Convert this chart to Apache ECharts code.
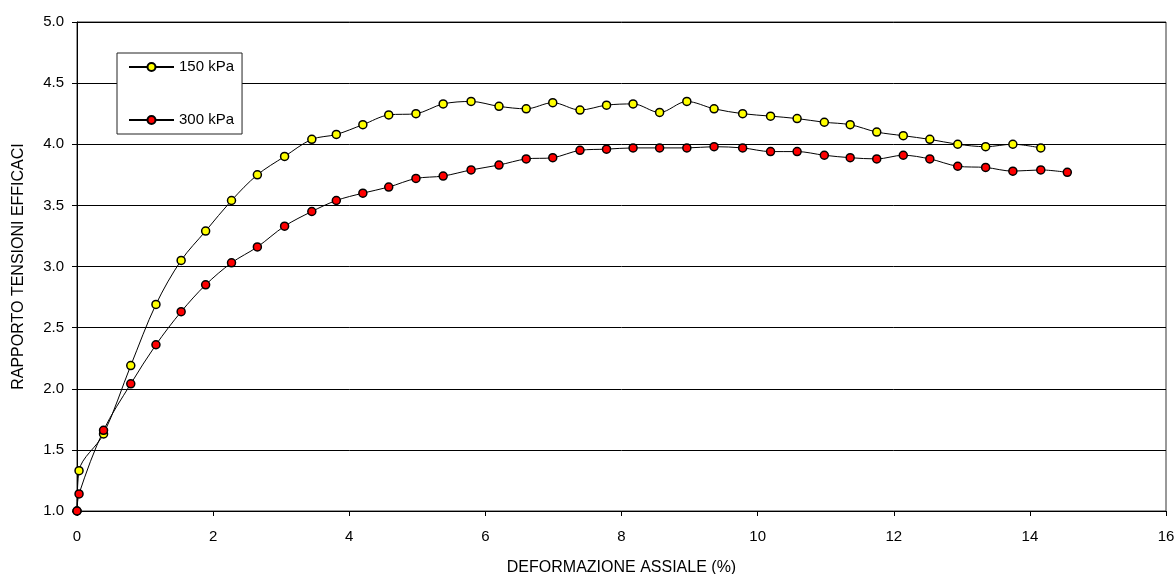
<!DOCTYPE html>
<html>
<head>
<meta charset="utf-8">
<script src="https://cdn.jsdelivr.net/npm/echarts@6/dist/echarts.min.js"></script>
<style>
html,body{margin:0;padding:0;background:#fff;}
#chart{width:1176px;height:574px;}
</style>
</head>
<body>
<div id="chart"></div>
<script>
var seriesNames = ['150 kPa', '300 kPa'];
var x150 = [0, 0.03, 0.39, 0.79, 1.16, 1.53, 1.89, 2.27, 2.65, 3.05, 3.45, 3.81, 4.20, 4.58, 4.98, 5.38, 5.79, 6.20, 6.60, 6.99, 7.39, 7.78, 8.17, 8.56, 8.96, 9.36, 9.78, 10.19, 10.58, 10.98, 11.36, 11.75, 12.14, 12.53, 12.94, 13.35, 13.75, 14.16];
var y150 = [1.00, 1.33, 1.63, 2.19, 2.69, 3.05, 3.29, 3.54, 3.75, 3.90, 4.04, 4.08, 4.16, 4.24, 4.25, 4.33, 4.35, 4.31, 4.29, 4.34, 4.28, 4.32, 4.33, 4.26, 4.35, 4.29, 4.25, 4.23, 4.21, 4.18, 4.16, 4.10, 4.07, 4.04, 4.00, 3.98, 4.00, 3.97];
var x300 = [0, 0.03, 0.39, 0.79, 1.16, 1.53, 1.89, 2.27, 2.65, 3.05, 3.45, 3.81, 4.20, 4.58, 4.98, 5.38, 5.79, 6.20, 6.60, 6.99, 7.39, 7.78, 8.17, 8.56, 8.96, 9.36, 9.78, 10.19, 10.58, 10.98, 11.36, 11.75, 12.14, 12.53, 12.94, 13.35, 13.75, 14.16, 14.55];
var y300 = [1.00, 1.14, 1.66, 2.04, 2.36, 2.63, 2.85, 3.03, 3.16, 3.33, 3.45, 3.54, 3.60, 3.65, 3.72, 3.74, 3.79, 3.83, 3.88, 3.89, 3.95, 3.96, 3.97, 3.97, 3.97, 3.98, 3.97, 3.94, 3.94, 3.91, 3.89, 3.88, 3.91, 3.88, 3.82, 3.81, 3.78, 3.79, 3.77];
var xTitle = 'DEFORMAZIONE ASSIALE (%)';
var yTitle = 'RAPPORTO TENSIONI EFFICACI';

function pairs(xs, ys) { return xs.map(function (x, i) { return [x, ys[i]]; }); }

var FONT = '"Liberation Sans", Arial, sans-serif';
var chart = echarts.init(document.getElementById('chart'), null, {renderer: 'canvas'});
chart.setOption({
  animation: false,
  backgroundColor: '#fff',
  textStyle: {fontFamily: FONT, color: '#000'},
  grid: {left: 77, right: 10, top: 22, bottom: 63, containLabel: false, outerBoundsMode: 'none',
    show: true, borderColor: '#333', borderWidth: 1, backgroundColor: 'transparent'},
  legend: {
    left: 117, top: 53, orient: 'vertical',
    backgroundColor: '#fff', borderColor: '#222', borderWidth: 1,
    padding: [6, 8, 6, 11],
    itemWidth: 45, itemHeight: 10, itemGap: 37,
    textStyle: {fontFamily: FONT, fontSize: 15, color: '#000', lineHeight: 16},
    data: seriesNames
  },
  xAxis: {
    type: 'value', min: 0, max: 16, interval: 2,
    name: xTitle, nameLocation: 'middle', nameGap: 49,
    nameTextStyle: {fontFamily: FONT, fontSize: 16, color: '#000'},
    axisLine: {show: true, lineStyle: {color: '#000', width: 1}},
    axisTick: {show: true, length: 5, lineStyle: {color: '#000'}},
    axisLabel: {fontFamily: FONT, fontSize: 15, color: '#000', margin: 18},
    splitLine: {show: false}
  },
  yAxis: {
    type: 'value', min: 1, max: 5, interval: 0.5,
    name: yTitle, nameLocation: 'middle', nameGap: 50, nameRotate: 90,
    nameTextStyle: {fontFamily: FONT, fontSize: 16, color: '#000'},
    axisLine: {show: true, lineStyle: {color: '#000', width: 1}},
    axisTick: {show: true, length: 5, lineStyle: {color: '#000'}},
    axisLabel: {fontFamily: FONT, fontSize: 15, color: '#000', margin: 13,
      formatter: function (v) { return v.toFixed(1); }},
    splitLine: {show: true, lineStyle: {color: '#000', width: 1}}
  },
  series: [
    {
      name: seriesNames[0], type: 'line', data: pairs(x150, y150),
      smooth: 0.33, symbol: 'circle', symbolSize: 8,
      lineStyle: {color: '#000', width: 1},
      itemStyle: {color: '#ffff00', borderColor: '#000', borderWidth: 1.5}
    },
    {
      name: seriesNames[1], type: 'line', data: pairs(x300, y300),
      smooth: 0.33, symbol: 'circle', symbolSize: 8,
      lineStyle: {color: '#000', width: 1},
      itemStyle: {color: '#ff0000', borderColor: '#000', borderWidth: 1.5}
    }
  ]
});
</script>
</body>
</html>
